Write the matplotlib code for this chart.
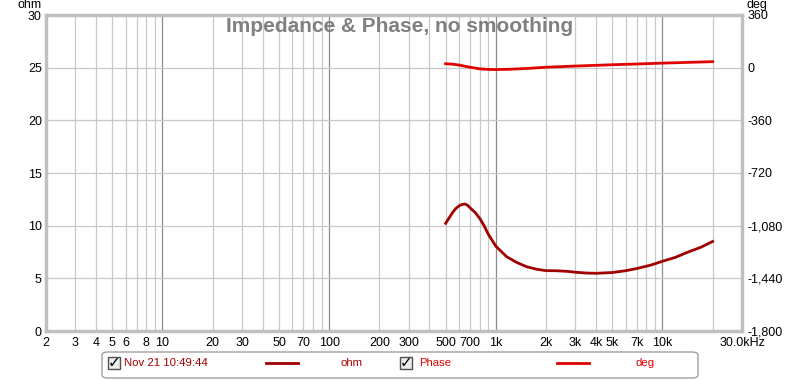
import numpy as np
import matplotlib
matplotlib.use("Agg")
import matplotlib.pyplot as plt
from matplotlib.patches import FancyBboxPatch, Rectangle
from matplotlib.ticker import FuncFormatter

plt.rcParams['font.family'] = ['Liberation Sans', 'DejaVu Sans']

# impedance (ohm) vs frequency
imp_freq = [500, 530, 555, 575, 600, 625, 650, 675, 700, 750, 800, 850, 900,
            1000, 1160, 1330, 1530, 1760, 2000, 2300, 2700, 3000, 3500, 4000,
            5000, 6000, 7000, 8500, 10000, 12000, 14000, 17000, 20000]
imp_ohm = [10.22, 10.85, 11.33, 11.62, 11.87, 12.0, 12.06, 11.95, 11.7, 11.27,
           10.7, 10.0, 9.2, 8.05, 7.06, 6.52, 6.1, 5.86, 5.73, 5.72, 5.66, 5.58,
           5.5, 5.48, 5.55, 5.72, 5.93, 6.25, 6.62, 7.0, 7.45, 7.95, 8.5]

# phase (deg) vs frequency
ph_freq = [500, 550, 600, 700, 800, 900, 1000, 1200, 1500, 2000, 3000, 4000,
           5000, 7000, 10000, 14000, 20000]
ph_deg = [27, 24, 18, 3, -8, -12, -13, -11, -6, 3, 11, 16, 20, 25, 31, 36, 41]

xtick_vals = [2, 3, 4, 5, 6, 8, 10, 20, 30, 50, 70, 100, 200, 300, 500, 700,
              1000, 2000, 3000, 4000, 5000, 7000, 10000, 30000]
xtick_labels = ['2', '3', '4', '5', '6', '8', '10', '20', '30', '50', '70', '100',
                '200', '300', '500', '700', '1k', '2k', '3k', '4k', '5k', '7k',
                '10k', '30.0kHz']

fig = plt.figure(figsize=(8, 3.8), dpi=100)
ax = fig.add_axes([46/800, 1-331/380, 696/800, 316/380])

ax.set_xscale('log')
ax.set_xlim(2, 30000)
ax.set_ylim(0, 30)

# vertical grid
for dec in [1, 10, 100, 1000, 10000]:
    for m in range(1, 10):
        f = dec * m
        if f <= 2 or f >= 30000:
            continue
        if m == 1:
            ax.axvline(f, color='#8c8c8c', lw=0.9, zorder=1)
        else:
            ax.axvline(f, color='#c8c8c8', lw=0.9, zorder=1)
for y in range(5, 30, 5):
    ax.axhline(y, color='#c8c8c8', lw=0.9, zorder=1)

ax.set_xticks(xtick_vals)
ax.set_xticklabels(xtick_labels)
ax.xaxis.set_minor_locator(matplotlib.ticker.NullLocator())
ax.set_yticks(range(0, 31, 5))
ax.tick_params(length=0, labelsize=9, pad=3)
ax.tick_params(axis='x', pad=4)
for s in ax.spines.values():
    s.set_color('#c0c0c0')
    s.set_linewidth(2.5)

ax.plot(imp_freq, imp_ohm, color='#a00000', lw=2, zorder=3,
        solid_joinstyle='round')

ax2 = ax.twinx()
ax2.set_ylim(-1800, 360)
ax2.set_yticks(range(-1800, 361, 360))
ax2.yaxis.set_major_formatter(FuncFormatter(lambda v, p: f"{int(v):,}"))
ax2.tick_params(length=0, labelsize=9, pad=4)
for s in ax2.spines.values():
    s.set_visible(False)
ax2.plot(ph_freq, ph_deg, color='#e00000', lw=2, zorder=3,
         solid_joinstyle='round')

fig.text(30/800, 1-5/380, 'ohm', fontsize=9, ha='center', va='center')
fig.text(757/800, 1-5/380, 'deg', fontsize=9, ha='center', va='center')
fig.text(400/800, 1-26/380, 'Impedance & Phase, no smoothing', fontsize=15,
         fontweight='bold', color='#808080', ha='center', va='center')

# legend box
box = FancyBboxPatch((102/800, 1-378/380), 596/800, 26/380,
                     boxstyle='round,pad=0,rounding_size=0.008',
                     transform=fig.transFigure, fc='white', ec='#a0a0a0', lw=1)
fig.patches.append(box)
ly = 1-363/380
for cx in [114, 406]:
    fig.patches.append(Rectangle(((cx-6)/800, ly-6/380), 12/800, 12/380,
                                 transform=fig.transFigure, fc='#ececec',
                                 ec='#505050', lw=1))
    fig.text((cx+0.5)/800, ly, '\u2713', fontsize=11, fontweight='bold',
             family=['DejaVu Sans'], ha='center', va='center')
fig.text(124/800, ly, 'Nov 21 10:49:44', fontsize=8.2, color='#a00000',
         va='center')
fig.lines.append(plt.Line2D([266/800, 298/800], [ly, ly], color='#a00000',
                            lw=2, transform=fig.transFigure))
fig.text(352/800, ly, 'ohm', fontsize=8.2, color='#a00000', va='center',
         ha='center')
fig.text(419/800, ly, 'Phase', fontsize=8.2, color='#e00000', va='center')
fig.lines.append(plt.Line2D([557/800, 589/800], [ly, ly], color='#e00000',
                            lw=2, transform=fig.transFigure))
fig.text(645/800, ly, 'deg', fontsize=8.2, color='#e00000', va='center',
         ha='center')

fig.savefig('out.png', dpi=100)
